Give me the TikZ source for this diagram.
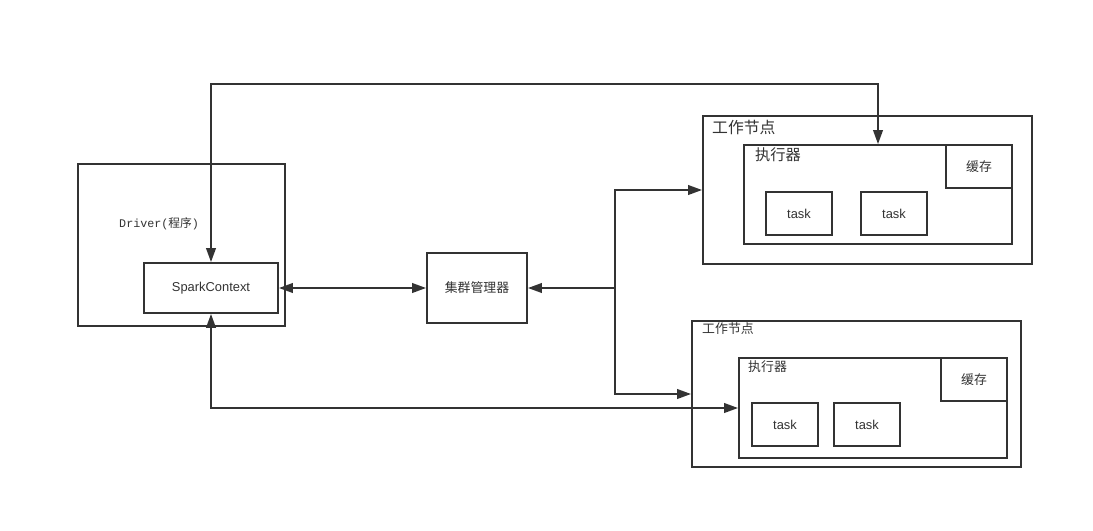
\documentclass[tikz,border=0pt]{standalone}
\usepackage{fontspec}
\setmainfont{Liberation Sans}
\setmonofont{Liberation Mono}
\newfontfamily\cjk{Noto Sans CJK SC}
\usetikzlibrary{arrows.meta,positioning}
\definecolor{linegr}{RGB}{51, 51, 51}

\begin{document}
\begin{tikzpicture}[x=0.03cm, y=-0.03cm,
    >={Triangle[length=0.42cm, width=0.29cm]},
    box/.style={draw=linegr, line width=1.6pt, fill=white, inner sep=0pt, text=linegr, font=\fontsize{11}{13}\selectfont},
    cjkbox/.style={box, font=\cjk\fontsize{11}{13}\selectfont},
    lbl/.style={text=linegr, inner sep=0pt, anchor=west},
    conn/.style={draw=linegr, line width=1.6pt}]
    \useasboundingbox (0,0) rectangle (1093,530);

    % driver side
    \node[box, minimum width=6.21cm, minimum height=4.86cm] (driver) at (181.5,245) {};
    \node[lbl, font=\ttfamily\fontsize{10}{12}\selectfont] (drvlabel) at (119,224) {Driver({\cjk 程序})};
    \node[box, minimum width=4.02cm, minimum height=1.5cm] (sc) at (211,288) {SparkContext};
    \node[cjkbox, minimum width=3cm, minimum height=2.1cm] (cm) at (477,288) {集群管理器};

    % worker 1
    \node[box, minimum width=9.87cm, minimum height=4.44cm] (w1) at (867.5,190) {};
    \node[lbl, font=\cjk\fontsize{13.5}{15}\selectfont] (w1label) at (712,127) {工作节点};
    \node[box, minimum width=8.04cm, minimum height=2.97cm] (ex1) at (878,194.5) {};
    \node[lbl, font=\cjk\fontsize{13}{15}\selectfont] (ex1label) at (755,155) {执行器};
    \node[cjkbox, minimum width=1.98cm, minimum height=1.29cm] (cache1) at (979,166.5) {缓存};
    \node[box, minimum width=1.98cm, minimum height=1.29cm] (task11) at (799,213.5) {task};
    \node[box, minimum width=1.98cm, minimum height=1.29cm] (task12) at (894,213.5) {task};

    % worker 2
    \node[box, minimum width=9.87cm, minimum height=4.38cm] (w2) at (856.5,394) {};
    \node[lbl, font=\cjk\fontsize{11}{13}\selectfont] (w2label) at (702,329) {工作节点};
    \node[box, minimum width=8.04cm, minimum height=3cm] (ex2) at (873,408) {};
    \node[lbl, font=\cjk\fontsize{11}{13}\selectfont] (ex2label) at (748,367) {执行器};
    \node[cjkbox, minimum width=1.98cm, minimum height=1.29cm] (cache2) at (974,379.5) {缓存};
    \node[box, minimum width=1.98cm, minimum height=1.29cm] (task21) at (785,424.5) {task};
    \node[box, minimum width=1.98cm, minimum height=1.29cm] (task22) at (867,424.5) {task};

    % connectors
    \coordinate (topbend) at (0,84);
    \coordinate (split) at (615,288);
    \draw[conn, <->] (sc.north) -- (sc.north |- topbend) -| (ex1.north);
    \draw[conn, <->] (sc.east) -- (cm.west);
    \draw[conn, <->] (cm.east) -- (split) |- (w1.west);
    \draw[conn, ->] (split) |- (w2.west);
    \draw[conn, <->] (sc.south) |- (ex2.west);
\end{tikzpicture}
\end{document}
